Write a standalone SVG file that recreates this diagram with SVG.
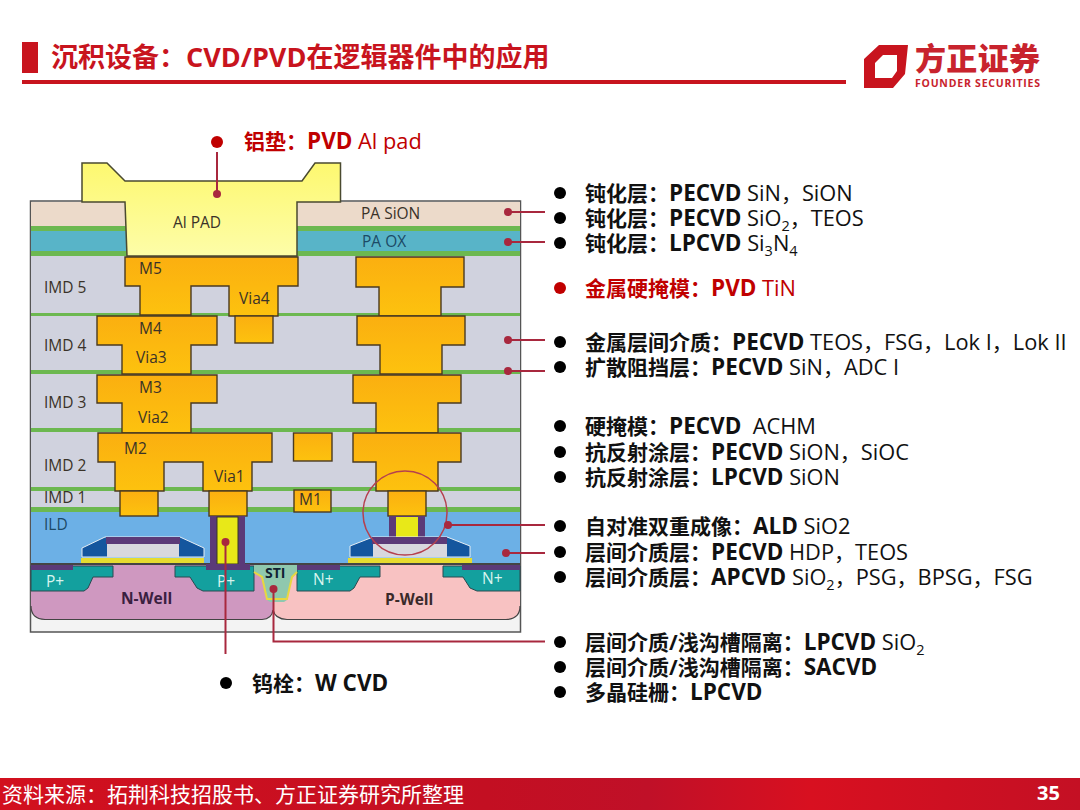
<svg xmlns="http://www.w3.org/2000/svg" width="1080" height="810" viewBox="0 0 1080 810">
<style>
text{font-family:"Open Sans","Noto Sans CJK SC",sans-serif}
.l{font-size:21.800px;fill:#111}
.b{font-weight:700;font-size:22.500px}
.c{font-weight:700;font-size:21px}
.k{font-size:21px}
.s{font-size:14.500px}
.dot{fill:#000}
.rd{fill:#c00000}
.lbl{font-size:15.500px;fill:#3a3228}
.m{fill:url(#gm);stroke:#4a3a20;stroke-width:1.400}
.g{fill:#6cb850}
.con{fill:none;stroke:#a8283e;stroke-width:2}
.cd{fill:#a8283e}
.t{fill:#13a09e;stroke:#2a4a50;stroke-width:1}
.p{fill:#5b3a78}
.bl{fill:#14569e}
.y{fill:#e6dc30}
.pl{fill:#e8e818;stroke:#3a3a20;stroke-width:1}
.edge{fill:none;stroke:#444;stroke-width:1.200}
</style>
<defs>
<linearGradient id="gm" x1="0" y1="0" x2="0" y2="1"><stop offset="0" stop-color="#fbaf10"/><stop offset="1" stop-color="#fdc20e"/></linearGradient>
<linearGradient id="gy" x1="0" y1="0" x2="0" y2="1"><stop offset="0" stop-color="#fdf870"/><stop offset="1" stop-color="#fdfda8"/></linearGradient>
<linearGradient id="gf" x1="0" y1="0" x2="1" y2="0"><stop offset="0" stop-color="#d2101e"/><stop offset=".45" stop-color="#c30f22"/><stop offset=".6" stop-color="#c01028"/><stop offset=".75" stop-color="#d81020"/><stop offset="1" stop-color="#c41024"/></linearGradient>
</defs>
<rect width="1080" height="810" fill="#fff"/>
<g id="header">
<rect x="22" y="42" width="16" height="31" fill="#c8141e"/>
<rect x="22" y="80" width="824" height="4" fill="#c8141e"/>
<text x="51" y="67" font-size="27" font-weight="700" fill="#c8141e">沉积设备&#xFF1A;CVD/PVD在逻辑器件中的应用</text>
</g>
<g id="logo">
<path d="M879 45H908L905 74L893 88H864V59ZM883 55L875 63V78H892L897 71V55Z" fill="#c8141e" fill-rule="evenodd"/>
<text x="915" y="70" font-size="31" font-weight="900" fill="#c8232d" textLength="125">方正证券</text>
<text x="915" y="87" font-size="10.500" font-weight="700" fill="#c8232d" textLength="125">FOUNDER SECURITIES</text>
</g>
<g id="structure">
<rect x="30.500" y="201" width="490" height="431" fill="#f3f3f3" stroke="#555" stroke-width="1.500"/>
<rect x="31" y="202" width="489" height="24" fill="#ecdaca"/>
<rect x="31" y="231" width="489" height="20" fill="#58b4c8"/>
<rect x="31" y="256" width="489" height="256" fill="#d0d2de"/>
<rect x="31" y="226" width="489" height="5" class="g"/>
<rect x="31" y="251" width="489" height="5" class="g"/>
<rect x="31" y="313" width="489" height="3" class="g"/>
<rect x="31" y="370" width="489" height="4" class="g"/>
<rect x="31" y="428" width="489" height="4" class="g"/>
<rect x="31" y="487" width="489" height="4" class="g"/>
<rect x="31" y="507" width="489" height="5" class="g"/>
<rect x="31" y="512" width="489" height="52" fill="#6cb0e6"/>
<path d="M31 564V606Q31 619 45 619.500H262Q272 619 273 610V564Z" fill="#cf98c0"/>
<path d="M273 564V610Q275 619 287 619.500H506Q520 619 520 606V564Z" fill="#f8c2c2"/>
<path class="edge" d="M31 606Q31 619 45 619.500H262Q272 619 273 610Q275 619 287 619.500H506Q520 619 520 606"/>
<rect x="31" y="563" width="489" height="2" fill="#444"/>
<path class="t" d="M31 566H113V577H93L88 588L84 591H31Z"/>
<path class="t" d="M175 566V577H190L197 588L203 591H254V566Z"/>
<path class="t" d="M297 566H380V577H360L354 588L350 591H297Z"/>
<path class="t" d="M443 566V577H463L470 588L477 591H520V566Z"/>
<rect x="31" y="565" width="42" height="5" class="p"/>
<rect x="297" y="565" width="43" height="5" class="p"/>
<rect x="462" y="565" width="58" height="5" class="p"/>
<path d="M254 565H297V572L292 577L287 600L284 602H270L267 600L263 577L254 572Z" fill="#8fc8ae"/>
<path d="M254 572L262 577L267 599H287L292 577L297 572" fill="none" stroke="#e6d840" stroke-width="2"/>
</g>
<g id="al-pad"><path d="M82 163H107L125 181H302L315 163H340.500V202H297V256H127L125 202H82Z" fill="url(#gy)" stroke="#4a4a30" stroke-width="1.500"/></g>
<g id="metal-left">
<path class="m" d="M125 257H298V286H278V316H229V286H191V315H140V286H125Z"/>
<rect class="m" x="235" y="316" width="38" height="27"/>
<path class="m" d="M97 316H217V345H191V374H122V345H97Z"/>
<path class="m" d="M97 375H217V403H191V433H122V403H97Z"/>
<path class="m" d="M98 433H272V462H252V491H203V462H164V491H115V462H98Z"/>
<rect class="m" x="120" y="491" width="38" height="25"/>
<rect class="m" x="209" y="491" width="38" height="25"/>
<rect class="p" x="210" y="516" width="35" height="50"/>
<rect class="pl" x="217" y="517" width="21" height="47"/>
<rect class="p" x="206" y="564" width="44" height="6"/>
</g>
<g id="metal-right">
<path class="m" d="M356 257H464V287H441V316H379V287H356Z"/>
<path class="m" d="M357 316H465V345H442V374H380V345H357Z"/>
<path class="m" d="M353 375H461V403H438V433H376V403H353Z"/>
<path class="m" d="M353 433H461V462H438V491H376V462H353Z"/>
<rect class="m" x="388" y="491" width="38" height="25"/>
<rect class="p" x="389" y="516" width="36" height="22"/>
<rect x="396" y="517" width="22" height="20" fill="#e8e818"/>
<rect class="m" x="293.500" y="433" width="38.500" height="28"/>
<rect class="m" x="294" y="490" width="37" height="22"/>
</g>
<g id="gate-left">
<path class="bl" d="M82 557V548L105 537H180L204 548V557Z" stroke="#e6eef4" stroke-width="1"/>
<rect x="106" y="537" width="74" height="7" class="p"/>
<rect x="107" y="544" width="72" height="13" fill="#d8d8de"/>
<rect x="81" y="558" width="123" height="5" class="y"/>
</g>
<g id="gate-right">
<path class="bl" d="M350 557V546L373 537H447L470 546V557Z" stroke="#e6eef4" stroke-width="1"/>
<rect x="372" y="537" width="75" height="7" class="p"/>
<rect x="373" y="544" width="74" height="13" fill="#d8d8de"/>
<rect x="348" y="558" width="124" height="5" class="y"/>
</g>
<g id="structure-labels">
<text class="lbl" x="173" y="228">Al PAD</text>
<text class="lbl" x="361" y="219">PA SiON</text>
<text class="lbl" x="362" y="247" style="fill:#1c4a66">PA OX</text>
<text class="lbl" x="44" y="293">IMD 5</text>
<text class="lbl" x="44" y="351">IMD 4</text>
<text class="lbl" x="44" y="408">IMD 3</text>
<text class="lbl" x="44" y="471">IMD 2</text>
<text class="lbl" x="44" y="503">IMD 1</text>
<text class="lbl" x="44" y="530" style="fill:#1c4a66">ILD</text>
<text class="lbl" x="139" y="274">M5</text>
<text class="lbl" x="239" y="304">Via4</text>
<text class="lbl" x="139" y="334">M4</text>
<text class="lbl" x="136" y="363">Via3</text>
<text class="lbl" x="139" y="393">M3</text>
<text class="lbl" x="138" y="423">Via2</text>
<text class="lbl" x="124" y="454">M2</text>
<text class="lbl" x="214" y="482">Via1</text>
<text class="lbl" x="299" y="505">M1</text>
<text x="265" y="578" font-size="14" font-weight="700" fill="#123">STI</text>
<text x="46" y="587" font-size="15.500" fill="#d8f4ee">P+</text>
<text x="217" y="587" font-size="15.500" fill="#d8f4ee">P+</text>
<text x="313" y="585" font-size="15.500" fill="#d8f4ee">N+</text>
<text x="482" y="584" font-size="15.500" fill="#d8f4ee">N+</text>
<text x="121" y="604" font-size="15.500" font-weight="700" fill="#3a2040">N-Well</text>
<text x="385" y="605" font-size="15.500" font-weight="700" fill="#3a2a2a">P-Well</text>
</g>
<g id="connectors">
<circle cx="405" cy="513" r="42" fill="none" stroke="#b5404f" stroke-width="1.500"/>
<path class="con" d="M217 152V194"/><circle class="cd" cx="217" cy="194" r="4"/>
<path class="con" d="M508 212H545"/><circle class="cd" cx="508" cy="212" r="4"/>
<path class="con" d="M508 242H545"/><circle class="cd" cx="508" cy="242" r="4"/>
<path class="con" d="M508 340H545"/><circle class="cd" cx="508" cy="340" r="4"/>
<path class="con" d="M508 371H545"/><circle class="cd" cx="508" cy="371" r="4"/>
<path class="con" d="M448 525H545"/><circle class="cd" cx="448" cy="525" r="4"/>
<path class="con" d="M506 553H545"/><circle class="cd" cx="506" cy="553" r="4"/>
<path class="con" d="M225.500 542V654"/><circle class="cd" cx="225.500" cy="542" r="4"/>
<path class="con" d="M273.500 589V641.500H545"/><circle class="cd" cx="273.500" cy="589" r="4"/>
</g>
<g id="labels">
<circle class="rd" cx="217" cy="142" r="6"/>
<text class="l" x="244" y="149" style="fill:#c00000"><tspan class="c">铝垫&#xFF1A;</tspan><tspan class="b">PVD</tspan> Al pad</text>
<circle class="dot" cx="226" cy="683" r="6"/>
<text class="l" x="252" y="691"><tspan class="c">钨栓&#xFF1A;</tspan><tspan class="b">W CVD</tspan></text>
<circle class="dot" cx="560" cy="193" r="6"/><text class="l" x="585" y="201"><tspan class="c">钝化层&#xFF1A;</tspan><tspan class="b">PECVD</tspan> SiN<tspan class="k">&#xFF0C;</tspan>SiON</text>
<circle class="dot" cx="560" cy="218" r="6"/><text class="l" x="585" y="226"><tspan class="c">钝化层&#xFF1A;</tspan><tspan class="b">PECVD</tspan> SiO<tspan class="s" dy="5">2</tspan><tspan class="k" dy="-5">&#xFF0C;</tspan>TEOS</text>
<circle class="dot" cx="560" cy="243" r="6"/><text class="l" x="585" y="251"><tspan class="c">钝化层&#xFF1A;</tspan><tspan class="b">LPCVD</tspan> Si<tspan class="s" dy="5">3</tspan><tspan dy="-5">N</tspan><tspan class="s" dy="5">4</tspan></text>
<circle class="rd" cx="560" cy="288" r="6"/><text class="l" x="585" y="296" style="fill:#c00000"><tspan class="c">金属硬掩模&#xFF1A;</tspan><tspan class="b">PVD</tspan> TiN</text>
<circle class="dot" cx="560" cy="342" r="6"/><text class="l" x="585" y="350"><tspan class="c">金属层间介质&#xFF1A;</tspan><tspan class="b">PECVD</tspan> TEOS<tspan class="k">&#xFF0C;</tspan>FSG<tspan class="k">&#xFF0C;</tspan>Lok I<tspan class="k">&#xFF0C;</tspan>Lok II</text>
<circle class="dot" cx="560" cy="367" r="6"/><text class="l" x="585" y="375"><tspan class="c">扩散阻挡层&#xFF1A;</tspan><tspan class="b">PECVD</tspan> SiN<tspan class="k">&#xFF0C;</tspan>ADC I</text>
<circle class="dot" cx="560" cy="426" r="6"/><text class="l" x="585" y="434" xml:space="preserve"><tspan class="c">硬掩模&#xFF1A;</tspan><tspan class="b">PECVD</tspan>  ACHM</text>
<circle class="dot" cx="560" cy="452" r="6"/><text class="l" x="585" y="460"><tspan class="c">抗反射涂层&#xFF1A;</tspan><tspan class="b">PECVD</tspan> SiON<tspan class="k">&#xFF0C;</tspan>SiOC</text>
<circle class="dot" cx="560" cy="477" r="6"/><text class="l" x="585" y="485"><tspan class="c">抗反射涂层&#xFF1A;</tspan><tspan class="b">LPCVD</tspan> SiON</text>
<circle class="dot" cx="560" cy="526" r="6"/><text class="l" x="585" y="534"><tspan class="c">自对准双重成像&#xFF1A;</tspan><tspan class="b">ALD</tspan> SiO2</text>
<circle class="dot" cx="560" cy="552" r="6"/><text class="l" x="585" y="560"><tspan class="c">层间介质层&#xFF1A;</tspan><tspan class="b">PECVD</tspan> HDP<tspan class="k">&#xFF0C;</tspan>TEOS</text>
<circle class="dot" cx="560" cy="577" r="6"/><text class="l" x="585" y="585"><tspan class="c">层间介质层&#xFF1A;</tspan><tspan class="b">APCVD</tspan> SiO<tspan class="s" dy="5">2</tspan><tspan class="k" dy="-5">&#xFF0C;</tspan>PSG<tspan class="k">&#xFF0C;</tspan>BPSG<tspan class="k">&#xFF0C;</tspan>FSG</text>
<circle class="dot" cx="560" cy="642" r="6"/><text class="l" x="585" y="650"><tspan class="c">层间介质/浅沟槽隔离&#xFF1A;</tspan><tspan class="b">LPCVD</tspan> SiO<tspan class="s" dy="5">2</tspan></text>
<circle class="dot" cx="560" cy="667" r="6"/><text class="l" x="585" y="675"><tspan class="c">层间介质/浅沟槽隔离&#xFF1A;</tspan><tspan class="b">SACVD</tspan></text>
<circle class="dot" cx="560" cy="692" r="6"/><text class="l" x="585" y="700"><tspan class="c">多晶硅栅&#xFF1A;</tspan><tspan class="b">LPCVD</tspan></text>
</g>
<g id="footer">
<rect y="778" width="1080" height="32" fill="url(#gf)"/>
<text x="2" y="802" font-size="21" fill="#fff">资料来源&#xFF1A;拓荆科技招股书&#x3001;方正证券研究所整理</text>
<text x="1037" y="800" font-size="20" font-weight="700" fill="#fff">35</text>
</g>
</svg>
